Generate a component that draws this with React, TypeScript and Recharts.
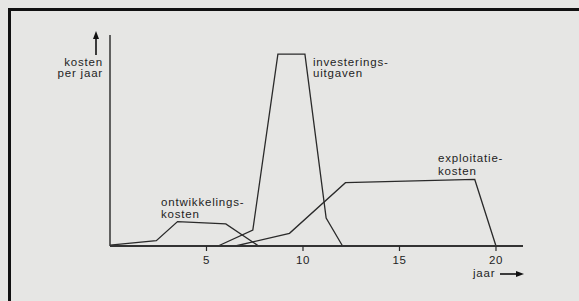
import { Line, LineChart, XAxis, YAxis } from "recharts";

const devYears = [0, 2.4, 3.5, 6.0, 7.7];
const devCosts = [0.5, 2.8, 12.7, 11.5, 0];

const invYears = [5.6, 7.4, 8.7, 10.1, 11.2, 12.05];
const invCosts = [0, 8.3, 100, 100, 14.6, 0];

const expYears = [6.5, 9.3, 12.2, 18.9, 20.0];
const expCosts = [0, 6.6, 33, 34.7, 0];

const yearTicks = [5, 10, 15, 20];

const toRows = (years: number[], costs: number[]) =>
  years.map((year, i) => ({ year, cost: costs[i] }));

const ink = "#2a2a2a";
const font = "'Liberation Sans', Arial, sans-serif";

const txt = {
  fontFamily: font,
  fontSize: 11.5,
  letterSpacing: 0.8,
  fill: "#1e1e1e",
};

const App = () => {
  return (
    <div
      style={{
        position: "relative",
        width: 579,
        height: 301,
        overflow: "hidden",
        background: "#e6e6e4",
      }}
    >
      <style>{`body{margin:0}`}</style>
      {/* page frame */}
      <div
        style={{
          position: "absolute",
          left: 8,
          top: 8,
          width: 640,
          height: 290,
          borderTop: "3px solid #111",
          borderLeft: "3px solid #111",
          borderBottom: "1px solid #999",
        }}
      />
      <LineChart
        width={579}
        height={301}
        margin={{ top: 35, right: 56, bottom: 0, left: 109 }}
        style={{ position: "absolute", left: 0, top: 0 }}
      >
        <XAxis
          type="number"
          dataKey="year"
          domain={[0, 21.4]}
          ticks={yearTicks}
          allowDataOverflow
          height={55}
          tickSize={5}
          tickLine={{ stroke: ink, strokeWidth: 1.2 }}
          axisLine={{ stroke: "#333", strokeWidth: 1.8 }}
          tick={{ ...txt, letterSpacing: 0.5, fontSize: 11.5 }}
          tickMargin={5}
        />
        <YAxis
          type="number"
          domain={[0, 110]}
          width={1}
          tick={false}
          tickLine={false}
          axisLine={{ stroke: "#333", strokeWidth: 1.5 }}
        />
        <Line
          data={toRows(devYears, devCosts)}
          dataKey="cost"
          type="linear"
          stroke={ink}
          strokeWidth={1.3}
          dot={false}
          isAnimationActive={false}
        />
        <Line
          data={toRows(invYears, invCosts)}
          dataKey="cost"
          type="linear"
          stroke={ink}
          strokeWidth={1.3}
          dot={false}
          isAnimationActive={false}
        />
        <Line
          data={toRows(expYears, expCosts)}
          dataKey="cost"
          type="linear"
          stroke={ink}
          strokeWidth={1.3}
          dot={false}
          isAnimationActive={false}
        />
      </LineChart>
      <svg
        width={579}
        height={301}
        style={{ position: "absolute", left: 0, top: 0, pointerEvents: "none" }}
      >
        {/* y arrow */}
        <line x1={96} y1={38} x2={96} y2={55} stroke="#111" strokeWidth={1.6} />
        <polygon points="93,39 99,39 96,31" fill="#111" />
        <text x={103} y={66} textAnchor="end" style={txt}>
          kosten
        </text>
        <text x={103} y={77} textAnchor="end" style={txt}>
          per jaar
        </text>
        <text x={313} y={66} style={txt}>
          investerings-
        </text>
        <text x={313} y={77} style={txt}>
          uitgaven
        </text>
        <text x={161} y={206} style={txt}>
          ontwikkelings-
        </text>
        <text x={161} y={218} style={txt}>
          kosten
        </text>
        <text x={438} y={162} style={txt}>
          exploitatie-
        </text>
        <text x={438} y={175} style={txt}>
          kosten
        </text>
        <text x={473} y={277} style={txt}>
          jaar
        </text>
        <line x1={500} y1={274} x2={517} y2={274} stroke="#111" strokeWidth={1.6} />
        <polygon points="516,271 516,277 524,274" fill="#111" />
      </svg>
    </div>
  );
};

export default App;
